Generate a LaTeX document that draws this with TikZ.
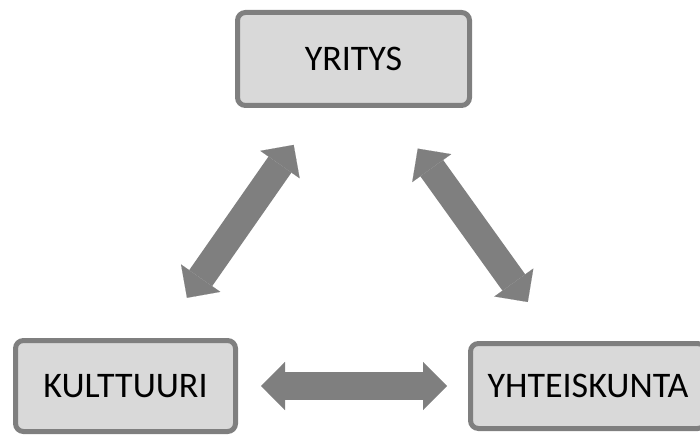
\documentclass[tikz,border=0pt]{standalone}
\usepackage{fontspec}
\setmainfont{Carlito}
\usetikzlibrary{arrows.meta}
\definecolor{boxgrey}{HTML}{D9D9D9}
\definecolor{edgegrey}{HTML}{7F7F7F}
\tikzset{
  box/.style={draw=edgegrey, fill=boxgrey, line width=5pt, rounded corners=8pt,
    inner sep=0pt, font=\fontsize{36}{40}\selectfont},
  twoway/.style={draw=edgegrey, line width=28pt,
    {Triangle[width=48pt,length=24pt,line width=0.1pt]}-{Triangle[width=48pt,length=24pt,line width=0.1pt]}}
}
\begin{document}
\begin{tikzpicture}[x=1pt,y=-1pt]
					\useasboundingbox (0,0) rectangle (700,435);
					\clip (0,0) rectangle (700,435);
					%Boxes
					\node[box, minimum width=232pt, minimum height=93pt] (yritys) at (353.5,59) {YRITYS};
					\node[box, minimum width=220pt, minimum height=91pt] (kulttuuri) at (125.5,386) {KULTTUURI};
					\node[box, minimum width=235pt, minimum height=85pt] (yhteiskunta) at (588,386) {YHTEISKUNTA};
					%Arrows
					\draw[twoway, shorten <=45pt, shorten >=49pt] (yritys)--(kulttuuri);
					\draw[twoway, shorten <=50pt, shorten >=48pt] (yritys)--(yhteiskunta);
					\draw[twoway, shorten <=23pt, shorten >=21pt] (kulttuuri)--(yhteiskunta);
\end{tikzpicture}
\end{document}
